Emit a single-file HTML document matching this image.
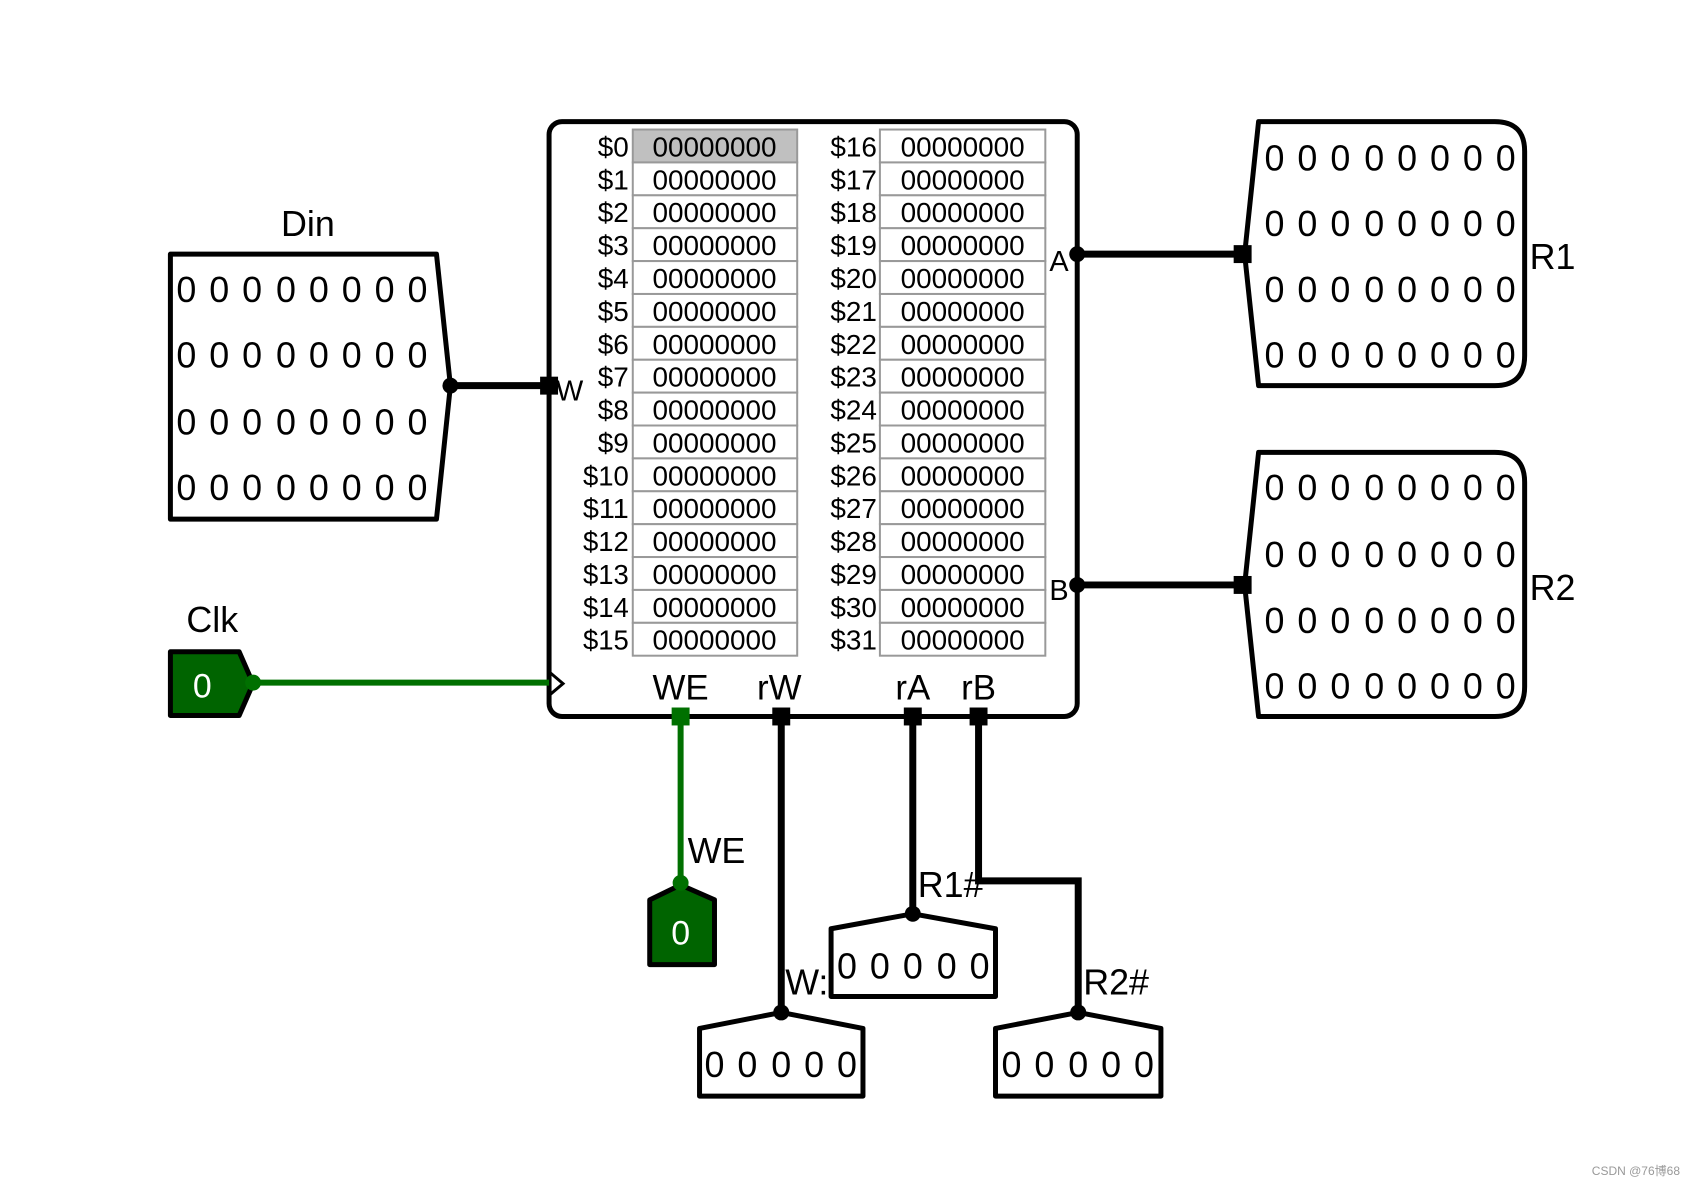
<!DOCTYPE html>
<html><head><meta charset="utf-8"><style>
html,body{margin:0;padding:0;background:#fff}
svg{display:block}
text{font-family:"Liberation Sans",sans-serif}
</style></head><body>
<svg width="1690" height="1183" viewBox="0 0 1690 1183" xmlns="http://www.w3.org/2000/svg">
<rect width="1690" height="1183" fill="#fff"/>
<g transform="scale(0.9965)">
<!-- Main register file box -->
<rect x="551" y="122" width="530" height="597" rx="13" fill="#fff" stroke="#000" stroke-width="5"/>

<g id="cells" stroke="#999" stroke-width="2" fill="#fff">
<rect x="635" y="130" width="165" height="33" fill="#c0c0c0"/>
<rect x="635" y="163" width="165" height="33"/><rect x="635" y="196" width="165" height="33"/><rect x="635" y="229" width="165" height="33"/>
<rect x="635" y="262" width="165" height="33"/><rect x="635" y="295" width="165" height="33"/><rect x="635" y="328" width="165" height="33"/>
<rect x="635" y="361" width="165" height="33"/><rect x="635" y="394" width="165" height="33"/><rect x="635" y="427" width="165" height="33"/>
<rect x="635" y="460" width="165" height="33"/><rect x="635" y="493" width="165" height="33"/><rect x="635" y="526" width="165" height="33"/>
<rect x="635" y="559" width="165" height="33"/><rect x="635" y="592" width="165" height="33"/><rect x="635" y="625" width="165" height="33"/>
<rect x="883" y="130" width="166" height="33"/><rect x="883" y="163" width="166" height="33"/><rect x="883" y="196" width="166" height="33"/>
<rect x="883" y="229" width="166" height="33"/><rect x="883" y="262" width="166" height="33"/><rect x="883" y="295" width="166" height="33"/>
<rect x="883" y="328" width="166" height="33"/><rect x="883" y="361" width="166" height="33"/><rect x="883" y="394" width="166" height="33"/>
<rect x="883" y="427" width="166" height="33"/><rect x="883" y="460" width="166" height="33"/><rect x="883" y="493" width="166" height="33"/>
<rect x="883" y="526" width="166" height="33"/><rect x="883" y="559" width="166" height="33"/><rect x="883" y="592" width="166" height="33"/>
<rect x="883" y="625" width="166" height="33"/>
</g>

<g font-size="28" fill="#000">
<g text-anchor="end">
<text x="631" y="157">$0</text><text x="631" y="190">$1</text><text x="631" y="223">$2</text><text x="631" y="256">$3</text>
<text x="631" y="289">$4</text><text x="631" y="322">$5</text><text x="631" y="355">$6</text><text x="631" y="388">$7</text>
<text x="631" y="421">$8</text><text x="631" y="454">$9</text><text x="631" y="487" textLength="46" lengthAdjust="spacingAndGlyphs">$10</text><text x="631" y="520" textLength="46" lengthAdjust="spacingAndGlyphs">$11</text>
<text x="631" y="553" textLength="46" lengthAdjust="spacingAndGlyphs">$12</text><text x="631" y="586" textLength="46" lengthAdjust="spacingAndGlyphs">$13</text><text x="631" y="619" textLength="46" lengthAdjust="spacingAndGlyphs">$14</text><text x="631" y="652" textLength="46" lengthAdjust="spacingAndGlyphs">$15</text>
</g>
<g text-anchor="end">
<text x="880" y="157">$16</text><text x="880" y="190">$17</text><text x="880" y="223">$18</text><text x="880" y="256">$19</text>
<text x="880" y="289">$20</text><text x="880" y="322">$21</text><text x="880" y="355">$22</text><text x="880" y="388">$23</text>
<text x="880" y="421">$24</text><text x="880" y="454">$25</text><text x="880" y="487">$26</text><text x="880" y="520">$27</text>
<text x="880" y="553">$28</text><text x="880" y="586">$29</text><text x="880" y="619">$30</text><text x="880" y="652">$31</text>
</g>
<g text-anchor="middle">
<text x="717" y="157">00000000</text><text x="717" y="190">00000000</text><text x="717" y="223">00000000</text><text x="717" y="256">00000000</text>
<text x="717" y="289">00000000</text><text x="717" y="322">00000000</text><text x="717" y="355">00000000</text><text x="717" y="388">00000000</text>
<text x="717" y="421">00000000</text><text x="717" y="454">00000000</text><text x="717" y="487">00000000</text><text x="717" y="520">00000000</text>
<text x="717" y="553">00000000</text><text x="717" y="586">00000000</text><text x="717" y="619">00000000</text><text x="717" y="652">00000000</text>
<text x="966" y="157">00000000</text><text x="966" y="190">00000000</text><text x="966" y="223">00000000</text><text x="966" y="256">00000000</text>
<text x="966" y="289">00000000</text><text x="966" y="322">00000000</text><text x="966" y="355">00000000</text><text x="966" y="388">00000000</text>
<text x="966" y="421">00000000</text><text x="966" y="454">00000000</text><text x="966" y="487">00000000</text><text x="966" y="520">00000000</text>
<text x="966" y="553">00000000</text><text x="966" y="586">00000000</text><text x="966" y="619">00000000</text><text x="966" y="652">00000000</text>
</g>
</g>

<!-- Box port labels -->
<g font-size="35" fill="#000" text-anchor="middle">
<text x="683" y="702">WE</text><text x="782" y="702">rW</text><text x="916" y="702">rA</text><text x="982" y="702">rB</text>
</g>
<text x="1053" y="272" font-size="29">A</text>
<text x="1053" y="602" font-size="29">B</text>
<text x="558" y="402" font-size="29">W</text>

<!-- Din -->
<path d="M171 255 H438 L452 387 L438 521 H171 Z" fill="#fff" stroke="#000" stroke-width="5" stroke-linejoin="round"/>
<text x="309" y="237" font-size="36" text-anchor="middle">Din</text>
<g font-size="36" text-anchor="middle">
<text x="187" y="303">0</text><text x="220" y="303">0</text><text x="253" y="303">0</text><text x="287" y="303">0</text><text x="320" y="303">0</text><text x="353" y="303">0</text><text x="386" y="303">0</text><text x="419" y="303">0</text>
<text x="187" y="369">0</text><text x="220" y="369">0</text><text x="253" y="369">0</text><text x="287" y="369">0</text><text x="320" y="369">0</text><text x="353" y="369">0</text><text x="386" y="369">0</text><text x="419" y="369">0</text>
<text x="187" y="436">0</text><text x="220" y="436">0</text><text x="253" y="436">0</text><text x="287" y="436">0</text><text x="320" y="436">0</text><text x="353" y="436">0</text><text x="386" y="436">0</text><text x="419" y="436">0</text>
<text x="187" y="502">0</text><text x="220" y="502">0</text><text x="253" y="502">0</text><text x="287" y="502">0</text><text x="320" y="502">0</text><text x="353" y="502">0</text><text x="386" y="502">0</text><text x="419" y="502">0</text>
</g>
<line x1="452" y1="387" x2="551" y2="387" stroke="#000" stroke-width="7"/>
<circle cx="452" cy="387" r="8" fill="#000"/>
<rect x="542" y="378" width="18" height="18" fill="#000"/>

<!-- Clk -->
<text x="213" y="634" font-size="36" text-anchor="middle">Clk</text>
<path d="M171 654 H240 L254 686 L240 718 H171 Z" fill="#006400" stroke="#000" stroke-width="5" stroke-linejoin="round"/>
<text x="203" y="700" font-size="34" fill="#fff" text-anchor="middle">0</text>
<line x1="254" y1="685" x2="551" y2="685" stroke="#007000" stroke-width="6"/>
<circle cx="254" cy="685" r="8" fill="#007000"/>
<path d="M552 675 L565 686 L552 697" fill="none" stroke="#000" stroke-width="3"/>

<!-- WE wire & pin -->
<line x1="683" y1="719" x2="683" y2="886" stroke="#007000" stroke-width="6"/>
<rect x="674" y="710" width="18" height="18" fill="#007000"/>
<text x="690" y="866" font-size="36">WE</text>
<path d="M652 903 L683 888 L717 903 V968 H652 Z" fill="#006400" stroke="#000" stroke-width="5" stroke-linejoin="round"/>
<circle cx="683" cy="886" r="8" fill="#007000"/>
<text x="683" y="948" font-size="34" fill="#fff" text-anchor="middle">0</text>

<!-- rW -->
<line x1="784" y1="719" x2="784" y2="1016" stroke="#000" stroke-width="7"/>
<rect x="775" y="710" width="18" height="18" fill="#000"/>
<text x="788" y="998" font-size="36">W:</text>
<path d="M702 1032 L784 1016 L866 1032 V1100 H702 Z" fill="#fff" stroke="#000" stroke-width="5" stroke-linejoin="round"/>
<circle cx="784" cy="1016" r="8" fill="#000"/>
<g font-size="36" text-anchor="middle"><text x="717" y="1081">0</text><text x="750" y="1081">0</text><text x="784" y="1081">0</text><text x="817" y="1081">0</text><text x="850" y="1081">0</text></g>

<!-- rA -->
<line x1="916" y1="719" x2="916" y2="917" stroke="#000" stroke-width="7"/>
<rect x="907" y="710" width="18" height="18" fill="#000"/>
<text x="921" y="900" font-size="36">R1#</text>
<path d="M834 932 L916 917 L999 932 V1000 H834 Z" fill="#fff" stroke="#000" stroke-width="5" stroke-linejoin="round"/>
<circle cx="916" cy="917" r="8" fill="#000"/>
<g font-size="36" text-anchor="middle"><text x="850" y="982">0</text><text x="883" y="982">0</text><text x="916" y="982">0</text><text x="950" y="982">0</text><text x="983" y="982">0</text></g>

<!-- rB -->
<path d="M982 719 V884 H1082 V1016" fill="none" stroke="#000" stroke-width="7"/>
<rect x="973" y="710" width="18" height="18" fill="#000"/>
<text x="1087" y="998" font-size="36">R2#</text>
<path d="M999 1032 L1082 1016 L1165 1032 V1100 H999 Z" fill="#fff" stroke="#000" stroke-width="5" stroke-linejoin="round"/>
<circle cx="1082" cy="1016" r="8" fill="#000"/>
<g font-size="36" text-anchor="middle"><text x="1015" y="1081">0</text><text x="1048" y="1081">0</text><text x="1082" y="1081">0</text><text x="1115" y="1081">0</text><text x="1148" y="1081">0</text></g>

<!-- R1 output -->
<line x1="1081" y1="255" x2="1246" y2="255" stroke="#000" stroke-width="7"/>
<circle cx="1081" cy="255" r="8" fill="#000"/>
<path d="M1263 122 H1500 Q1530 122 1530 152 V357 Q1530 387 1500 387 H1263 L1249 255 Z" fill="#fff" stroke="#000" stroke-width="5" stroke-linejoin="round"/>
<rect x="1238" y="246" width="18" height="18" fill="#000"/>
<text x="1535" y="270" font-size="36">R1</text>
<g font-size="36" text-anchor="middle">
<text x="1279" y="171">0</text><text x="1312" y="171">0</text><text x="1345" y="171">0</text><text x="1379" y="171">0</text><text x="1412" y="171">0</text><text x="1445" y="171">0</text><text x="1478" y="171">0</text><text x="1511" y="171">0</text>
<text x="1279" y="237">0</text><text x="1312" y="237">0</text><text x="1345" y="237">0</text><text x="1379" y="237">0</text><text x="1412" y="237">0</text><text x="1445" y="237">0</text><text x="1478" y="237">0</text><text x="1511" y="237">0</text>
<text x="1279" y="303">0</text><text x="1312" y="303">0</text><text x="1345" y="303">0</text><text x="1379" y="303">0</text><text x="1412" y="303">0</text><text x="1445" y="303">0</text><text x="1478" y="303">0</text><text x="1511" y="303">0</text>
<text x="1279" y="369">0</text><text x="1312" y="369">0</text><text x="1345" y="369">0</text><text x="1379" y="369">0</text><text x="1412" y="369">0</text><text x="1445" y="369">0</text><text x="1478" y="369">0</text><text x="1511" y="369">0</text>
</g>

<!-- R2 output -->
<line x1="1081" y1="587" x2="1246" y2="587" stroke="#000" stroke-width="7"/>
<circle cx="1081" cy="587" r="8" fill="#000"/>
<path d="M1263 454 H1500 Q1530 454 1530 484 V689 Q1530 719 1500 719 H1263 L1249 587 Z" fill="#fff" stroke="#000" stroke-width="5" stroke-linejoin="round"/>
<rect x="1238" y="578" width="18" height="18" fill="#000"/>
<text x="1535" y="602" font-size="36">R2</text>
<g font-size="36" text-anchor="middle">
<text x="1279" y="502">0</text><text x="1312" y="502">0</text><text x="1345" y="502">0</text><text x="1379" y="502">0</text><text x="1412" y="502">0</text><text x="1445" y="502">0</text><text x="1478" y="502">0</text><text x="1511" y="502">0</text>
<text x="1279" y="569">0</text><text x="1312" y="569">0</text><text x="1345" y="569">0</text><text x="1379" y="569">0</text><text x="1412" y="569">0</text><text x="1445" y="569">0</text><text x="1478" y="569">0</text><text x="1511" y="569">0</text>
<text x="1279" y="635">0</text><text x="1312" y="635">0</text><text x="1345" y="635">0</text><text x="1379" y="635">0</text><text x="1412" y="635">0</text><text x="1445" y="635">0</text><text x="1478" y="635">0</text><text x="1511" y="635">0</text>
<text x="1279" y="701">0</text><text x="1312" y="701">0</text><text x="1345" y="701">0</text><text x="1379" y="701">0</text><text x="1412" y="701">0</text><text x="1445" y="701">0</text><text x="1478" y="701">0</text><text x="1511" y="701">0</text>
</g>
</g>
<text x="1680" y="1175" font-size="12" fill="#999" text-anchor="end" style='font-family:"Liberation Sans","Noto Sans CJK SC",sans-serif'>CSDN @76博68</text>
</svg>
</body></html>
